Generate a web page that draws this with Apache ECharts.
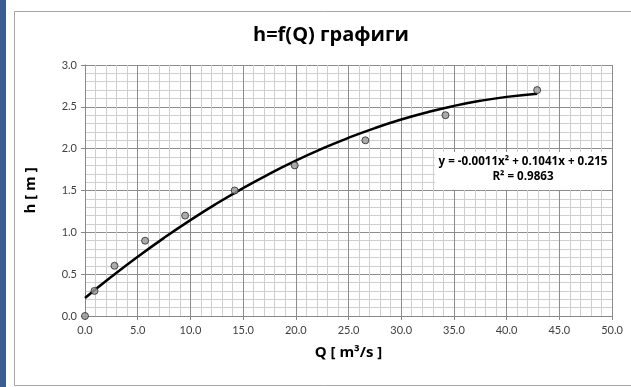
<!DOCTYPE html>
<html>
<head>
<meta charset="utf-8">
<script src="https://cdn.jsdelivr.net/npm/echarts@6/dist/echarts.min.js"></script>
<style>
    html, body { margin: 0; padding: 0; background: #fff; }
    #chartBox { width: 631px; height: 387px; }
</style>
</head>
<body>
<div id="chartBox"></div>
<script>
// измерени точки Q - h
var qValues = [0.0, 0.9, 2.8, 5.7, 9.5, 14.2, 19.9, 26.6, 34.2, 42.9];
var hValues = [0.0, 0.3, 0.6, 0.9, 1.2, 1.5, 1.8, 2.1, 2.4, 2.7];

// тренд линия (полином 2 ред), отчетена от графиката
var trendQ = [0, 2.5, 5, 7.5, 10, 12.5, 15, 17.5, 20, 22.5, 25, 27.5, 30, 32.5, 35, 37.5, 40, 42.9];
var trendH = [0.215, 0.468, 0.708, 0.934, 1.146, 1.344, 1.529, 1.700, 1.857, 2.000, 2.130, 2.246, 2.348, 2.436, 2.511, 2.572, 2.619, 2.656];

var titleText = 'h=f(Q) графиги';
var xName = 'Q [ m³/s ]';
var yName = 'h [ m ]';
var eqLines = ['y = -0.0011x² + 0.1041x + 0.215', 'R² = 0.9863'];

var FONT = 'Lato, sans-serif';
var BOLD_FONT = '"Open Sans", sans-serif';

chartInit();

function pairs(xs, ys) {
    var out = [];
    for (var i = 0; i < xs.length; i++) out.push([xs[i], ys[i]]);
    return out;
}

function chartInit() {
    var myChart = echarts.init(document.getElementById('chartBox'));
    var option = {
        animation: false,
        textStyle: {fontFamily: FONT},
        title: {
            text: titleText,
            left: 326,
            textAlign: 'center',
            top: 20,
            textStyle: {fontFamily: BOLD_FONT, fontSize: 20, fontWeight: 'bold', color: '#000'}
        },
        grid: {left: 85, right: 19, top: 65, bottom: 71},
        xAxis: {
            type: 'value',
            min: 0, max: 50, interval: 5,
            name: xName,
            nameLocation: 'middle',
            nameGap: 29,
            nameTextStyle: {fontFamily: BOLD_FONT, fontSize: 15, fontWeight: 'bold', color: '#000'},
            axisLine: {show: true, lineStyle: {color: '#888', width: 1}},
            axisTick: {show: true, length: 4, lineStyle: {color: '#888'}},
            axisLabel: {formatter: function (v) { return v.toFixed(1); }, color: '#404040', fontSize: 11, margin: 9},
            splitLine: {show: true, lineStyle: {color: '#8c8c8c', width: 1}},
            minorTick: {show: false, splitNumber: 5},
            minorSplitLine: {show: true, lineStyle: {color: '#cfcfcf', width: 1}}
        },
        yAxis: {
            type: 'value',
            min: 0, max: 3, interval: 0.5,
            name: yName,
            nameLocation: 'middle',
            nameGap: 47,
            nameRotate: 90,
            nameTextStyle: {fontFamily: BOLD_FONT, fontSize: 15, fontWeight: 'bold', color: '#000'},
            axisLine: {show: true, lineStyle: {color: '#888', width: 1}},
            axisTick: {show: true, length: 4, lineStyle: {color: '#888'}},
            axisLabel: {formatter: function (v) { return v.toFixed(1); }, color: '#404040', fontSize: 11, margin: 8},
            splitLine: {show: true, lineStyle: {color: '#8c8c8c', width: 1}},
            minorTick: {show: false, splitNumber: 5},
            minorSplitLine: {show: true, lineStyle: {color: '#cfcfcf', width: 1}}
        },
        graphic: [
            {type: 'rect', left: 0, top: 0, shape: {width: 6, height: 387}, style: {fill: '#3b5d90'}},
            {type: 'rect', left: 12, top: 9, shape: {width: 640, height: 374}, style: {fill: 'none', stroke: '#a6a6a6', lineWidth: 1}, z: -1},
            {type: 'rect', left: 435, top: 152, shape: {width: 177, height: 38}, style: {fill: '#fff'}, z: 10},
            {type: 'text', x: 523, y: 156, z: 11,
                style: {text: eqLines[0], align: 'center', verticalAlign: 'top', fontFamily: BOLD_FONT, fontSize: 11.6, fontWeight: 'bold', fill: '#000'}},
            {type: 'text', x: 523, y: 171, z: 11,
                style: {text: eqLines[1], align: 'center', verticalAlign: 'top', fontFamily: BOLD_FONT, fontSize: 11.6, fontWeight: 'bold', fill: '#000'}}
        ],
        series: [
            {
                name: 'тренд',
                type: 'line',
                smooth: true,
                showSymbol: false,
                lineStyle: {color: '#000', width: 2.5},
                data: pairs(trendQ, trendH),
                z: 3
            },
            {
                name: 'h',
                type: 'scatter',
                symbol: 'circle',
                symbolSize: 7,
                itemStyle: {color: '#9a9a9a', borderColor: '#262626', borderWidth: 1},
                data: pairs(qValues, hValues),
                z: 4
            }
        ]
    };
    myChart.setOption(option);
}
</script>
</body>
</html>
